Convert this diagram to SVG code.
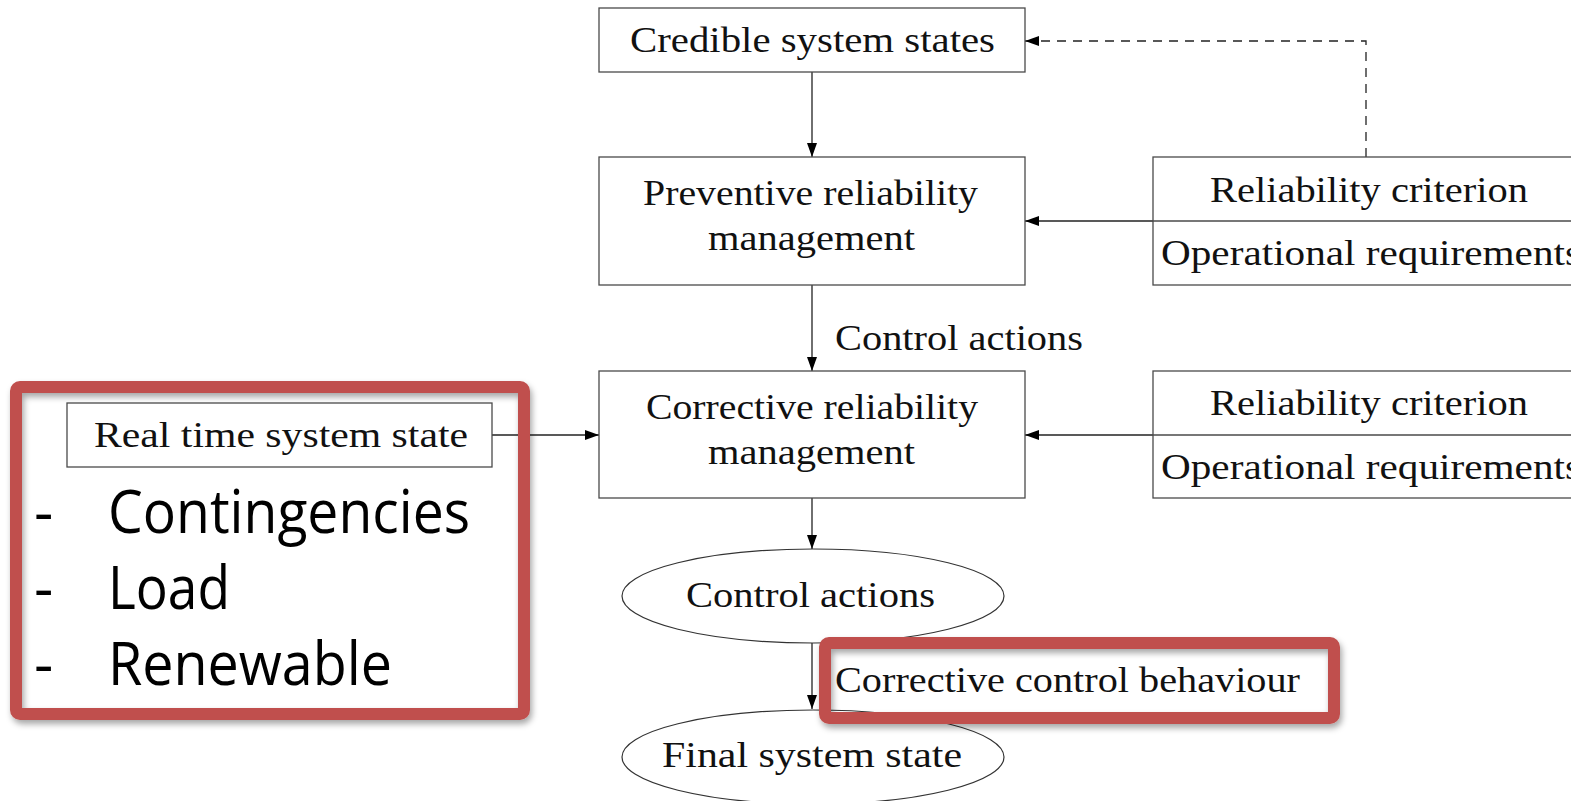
<svg xmlns="http://www.w3.org/2000/svg" width="1571" height="801" viewBox="0 0 1571 801">
  <defs>
    <style>
      .box { fill: #ffffff; stroke: #4a4a4a; stroke-width: 1.3; }
      .ell { fill: none; stroke: #333333; stroke-width: 1.2; }
      .lbl { font-family: "Liberation Serif", "DejaVu Serif", serif; font-size: 36px; fill: #111111; }
      .big { font-family: "Open Sans", "Liberation Sans", sans-serif; font-size: 60px; fill: #000000; }
      .edge { fill: none; stroke: #222222; stroke-width: 1.3; }
      .dash { stroke-dasharray: 9 7; }
      .hl { fill: none; stroke: #C0504D; stroke-width: 12; }
    </style>
    <marker id="arrow" viewBox="0 0 14 10" refX="14" refY="5" markerWidth="14" markerHeight="10" markerUnits="userSpaceOnUse" orient="auto">
      <path d="M0,0 L14,5 L0,10 Z" fill="#000000"/>
    </marker>
    <filter id="shadow" x="-10%" y="-20%" width="120%" height="150%">
      <feDropShadow dx="2" dy="4" stdDeviation="3" flood-color="#000000" flood-opacity="0.35"/>
    </filter>
  </defs>

  <rect width="1571" height="801" fill="#ffffff"/>

  <!-- connectors -->
  <g id="connectors">
    <line class="edge" x1="812" y1="72" x2="812" y2="157" marker-end="url(#arrow)"/>
    <line class="edge" x1="812" y1="285" x2="812" y2="371" marker-end="url(#arrow)"/>
    <text class="lbl" x="835" y="350" textLength="248" lengthAdjust="spacingAndGlyphs">Control actions</text>
    <line class="edge" x1="812" y1="498" x2="812" y2="549" marker-end="url(#arrow)"/>
    <line class="edge" x1="812" y1="643" x2="812" y2="709" marker-end="url(#arrow)"/>
    <line class="edge" x1="1153" y1="221" x2="1025" y2="221" marker-end="url(#arrow)"/>
    <line class="edge" x1="1153" y1="435" x2="1025" y2="435" marker-end="url(#arrow)"/>
    <line class="edge" x1="492" y1="435" x2="599" y2="435" marker-end="url(#arrow)"/>
    <polyline class="edge dash" points="1366,157 1366,41 1025,41" marker-end="url(#arrow)"/>
  </g>

  <!-- Credible system states -->
  <g id="credible">
    <rect class="box" x="599" y="8" width="426" height="64"/>
    <text class="lbl" x="630" y="52" textLength="365" lengthAdjust="spacingAndGlyphs">Credible system states</text>
  </g>

  <!-- Preventive reliability management -->
  <g id="preventive">
    <rect class="box" x="599" y="157" width="426" height="128"/>
    <text class="lbl" x="643" y="205" textLength="335" lengthAdjust="spacingAndGlyphs">Preventive reliability</text>
    <text class="lbl" x="708" y="250" textLength="207" lengthAdjust="spacingAndGlyphs">management</text>
  </g>

  <!-- Corrective reliability management -->
  <g id="corrective">
    <rect class="box" x="599" y="371" width="426" height="127"/>
    <text class="lbl" x="646" y="419" textLength="332" lengthAdjust="spacingAndGlyphs">Corrective reliability</text>
    <text class="lbl" x="708" y="464" textLength="207" lengthAdjust="spacingAndGlyphs">management</text>
  </g>

  <!-- Criteria for preventive stage -->
  <g id="criteria-preventive">
    <rect class="box" x="1153" y="157" width="440" height="128"/>
    <line class="box" x1="1153" y1="221" x2="1571" y2="221"/>
    <text class="lbl" x="1210" y="202" textLength="318" lengthAdjust="spacingAndGlyphs">Reliability criterion</text>
    <text class="lbl" x="1161" y="265" textLength="420" lengthAdjust="spacingAndGlyphs">Operational requirements</text>
  </g>

  <!-- Criteria for corrective stage -->
  <g id="criteria-corrective">
    <rect class="box" x="1153" y="371" width="440" height="127"/>
    <line class="box" x1="1153" y1="435" x2="1571" y2="435"/>
    <text class="lbl" x="1210" y="415" textLength="318" lengthAdjust="spacingAndGlyphs">Reliability criterion</text>
    <text class="lbl" x="1161" y="479" textLength="420" lengthAdjust="spacingAndGlyphs">Operational requirements</text>
  </g>

  <!-- Real time system state -->
  <g id="realtime">
    <rect class="box" x="67" y="403" width="425" height="64"/>
    <text class="lbl" x="94" y="447" textLength="374" lengthAdjust="spacingAndGlyphs">Real time system state</text>
  </g>

  <!-- Control actions (ellipse) -->
  <g id="control-actions">
    <ellipse class="ell" cx="813" cy="596" rx="191" ry="47"/>
    <text class="lbl" x="686" y="607" textLength="249" lengthAdjust="spacingAndGlyphs">Control actions</text>
  </g>

  <!-- Final system state -->
  <g id="final-state">
    <ellipse class="ell" cx="813" cy="757" rx="191" ry="47"/>
    <text class="lbl" x="662" y="767" textLength="300" lengthAdjust="spacingAndGlyphs">Final system state</text>
  </g>

  <!-- Uncertainty sources highlight -->
  <g id="uncertainty">
    <rect class="hl" x="16" y="387" width="508" height="327" rx="4" filter="url(#shadow)"/>
    <text class="big" x="34" y="533">-</text>
    <text class="big" x="108" y="533" textLength="362" lengthAdjust="spacingAndGlyphs">Contingencies</text>
    <text class="big" x="34" y="609">-</text>
    <text class="big" x="108" y="609" textLength="122" lengthAdjust="spacingAndGlyphs">Load</text>
    <text class="big" x="34" y="685">-</text>
    <text class="big" x="108" y="685" textLength="284" lengthAdjust="spacingAndGlyphs">Renewable</text>
  </g>

  <!-- Corrective control behaviour highlight -->
  <g id="behaviour">
    <rect class="hl" x="825" y="643" width="509" height="75" rx="4" filter="url(#shadow)"/>
    <text class="lbl" x="835" y="692" textLength="465" lengthAdjust="spacingAndGlyphs">Corrective control behaviour</text>
  </g>
</svg>
